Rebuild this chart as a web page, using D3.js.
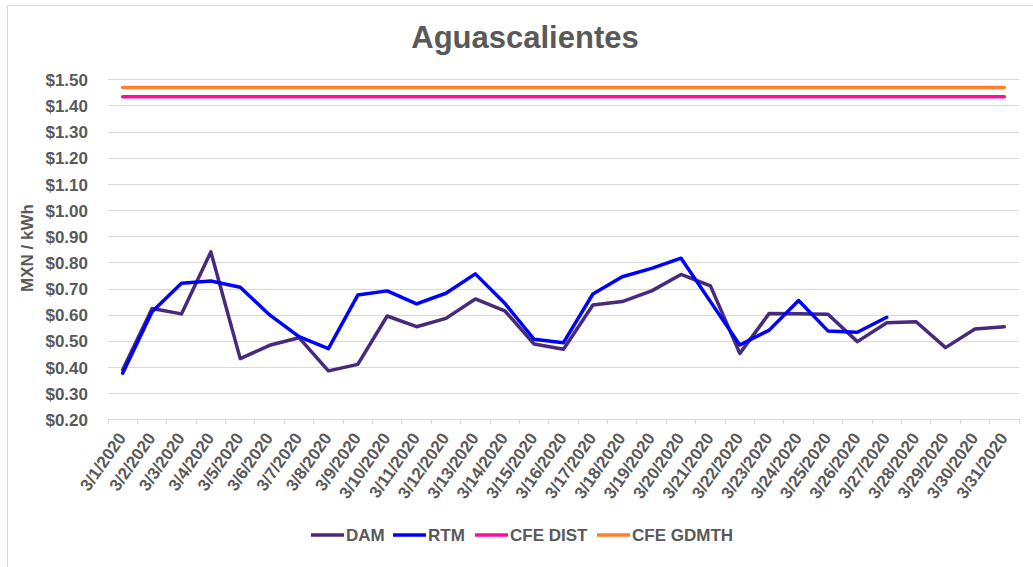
<!DOCTYPE html>
<meta charset="utf-8">
<head>
<style>
body { margin: 0; background: #fff; font-family: "Liberation Sans", Arial, sans-serif; }
.lbl { fill: #595959; font-weight: bold; font-size: 17px; }
.grid line { stroke: #d9d9d9; stroke-width: 1px; shape-rendering: crispEdges; }
.series { fill: none; stroke-width: 3.5px; stroke-linejoin: round; stroke-linecap: round; }
</style>
<script src="https://d3js.org/d3.v7.min.js"></script>
</head>
<body>
<div id="chart"></div>
<script>

var dates = ["3/1/2020","3/2/2020","3/3/2020","3/4/2020","3/5/2020","3/6/2020","3/7/2020","3/8/2020",
  "3/9/2020","3/10/2020","3/11/2020","3/12/2020","3/13/2020","3/14/2020","3/15/2020","3/16/2020",
  "3/17/2020","3/18/2020","3/19/2020","3/20/2020","3/21/2020","3/22/2020","3/23/2020","3/24/2020",
  "3/25/2020","3/26/2020","3/27/2020","3/28/2020","3/29/2020","3/30/2020","3/31/2020"];

var dam = [0.389, 0.624, 0.603, 0.840, 0.432, 0.483, 0.512, 0.385, 0.410, 0.595, 0.554,
  0.586, 0.660, 0.615, 0.488, 0.468, 0.637, 0.650, 0.691, 0.754, 0.710, 0.452, 0.605,
  0.604, 0.602, 0.497, 0.569, 0.573, 0.474, 0.545, 0.554];

// RTM stops on 3/27
var rtm = [0.376, 0.611, 0.720, 0.729, 0.705, 0.599, 0.516, 0.470, 0.675, 0.691, 0.641,
  0.682, 0.756, 0.644, 0.506, 0.493, 0.679, 0.745, 0.777, 0.816, 0.650, 0.484, 0.541,
  0.654, 0.538, 0.533, 0.590, null, null, null, null];

var cfeDist = [1.433, 1.433, 1.433, 1.433, 1.433, 1.433, 1.433, 1.433, 1.433, 1.433, 1.433,
  1.433, 1.433, 1.433, 1.433, 1.433, 1.433, 1.433, 1.433, 1.433, 1.433, 1.433, 1.433,
  1.433, 1.433, 1.433, 1.433, 1.433, 1.433, 1.433, 1.433];

var cfeGdmth = [1.469, 1.469, 1.469, 1.469, 1.469, 1.469, 1.469, 1.469, 1.469, 1.469, 1.469,
  1.469, 1.469, 1.469, 1.469, 1.469, 1.469, 1.469, 1.469, 1.469, 1.469, 1.469, 1.469,
  1.469, 1.469, 1.469, 1.469, 1.469, 1.469, 1.469, 1.469];

var yTicks = [0.2, 0.3, 0.4, 0.5, 0.6, 0.7, 0.8, 0.9, 1.0, 1.1, 1.2, 1.3, 1.4, 1.5];

var seriesNames = ["DAM", "RTM", "CFE DIST", "CFE GDMTH"];
var seriesColors = ["#472a7c", "#0000ff", "#ff0a9c", "#ff7f2a"];

var W = 1033, H = 567;
var plotL = 108, plotR = 1019, plotT = 79.3, plotB = 419.3;

var svg = d3.select("#chart").append("svg")
  .attr("width", W)
  .attr("height", H);

// chart border (right and bottom edges fall outside the picture)
svg.append("rect")
  .attr("x", 7.5).attr("y", 5.5)
  .attr("width", 1040).attr("height", 580)
  .attr("fill", "#fff")
  .attr("stroke", "#d9d9d9");

svg.append("text")
  .attr("x", 525).attr("y", 48)
  .attr("text-anchor", "middle")
  .style("fill", "#595959")
  .style("font-weight", "bold")
  .style("font-size", "31px")
  .text("Aguascalientes");

var x = d3.scaleBand().domain(dates).range([plotL, plotR]).padding(0);
var y = d3.scaleLinear().domain([0.2, 1.5]).range([plotB, plotT]);

////gridlines
svg.append("g")
  .attr("class", "grid")
  .attr("transform", "translate(" + plotL + ",0)")
  .call(d3.axisLeft(y).tickValues(yTicks.slice(1)).tickSize(-(plotR - plotL)).tickFormat(""))
  .call(function(g){ g.select(".domain").remove(); });

////y axis labels
svg.append("g")
  .attr("transform", "translate(" + (plotL - 20) + ",0)")
  .call(d3.axisLeft(y).tickValues(yTicks).tickSize(0).tickPadding(0).tickFormat(d3.format("$.2f")))
  .call(function(g){
    g.select(".domain").remove();
    g.selectAll("text").attr("class", "lbl").attr("fill", null).attr("font-size", null).attr("font-family", null).attr("dy", "0.36em");
  });

svg.append("text")
  .attr("class", "lbl")
  .attr("transform", "translate(33,248) rotate(-90)")
  .attr("text-anchor", "middle")
  .text("MXN / kWh");

////x axis
var xa = svg.append("g").attr("class", "grid");
xa.append("line")
  .attr("x1", plotL).attr("x2", plotR)
  .attr("y1", plotB).attr("y2", plotB);
xa.selectAll(".tk")
  .data(dates.map(function(d){ return x(d); }).concat([plotR]))
  .enter().append("line")
  .attr("x1", function(d){ return d; }).attr("x2", function(d){ return d; })
  .attr("y1", plotB).attr("y2", plotB + 5);

svg.selectAll(".xl")
  .data(dates)
  .enter().append("text")
  .attr("class", "lbl")
  .attr("text-anchor", "end")
  .attr("transform", function(d){
    return "translate(" + (x(d) + x.bandwidth() / 2 + 4) + "," + 438 + ") rotate(-55)";
  })
  .text(function(d){ return d; });

////lines
var allSeries = [dam, rtm, cfeDist, cfeGdmth];
var line = d3.line()
  .defined(function(d){ return d != null; })
  .x(function(d, i){ return x(dates[i]) + x.bandwidth() / 2; })
  .y(function(d){ return y(d); });

svg.selectAll(".series")
  .data(allSeries)
  .enter().append("path")
  .attr("class", "series")
  .attr("d", function(d){ return line(d); })
  .attr("stroke", function(d, i){ return seriesColors[i]; });

////legend
var legendX = [311, 393, 475, 597];
var lg = svg.selectAll(".lg")
  .data(seriesNames)
  .enter().append("g")
  .attr("transform", function(d, i){ return "translate(" + legendX[i] + ",535)"; });
lg.append("line")
  .attr("x1", 0).attr("x2", 33)
  .attr("stroke", function(d, i){ return seriesColors[i]; })
  .attr("stroke-width", 3.5);
lg.append("text")
  .attr("class", "lbl")
  .attr("x", 35).attr("y", 6)
  .text(function(d){ return d; });

</script>
</body>
</html>
